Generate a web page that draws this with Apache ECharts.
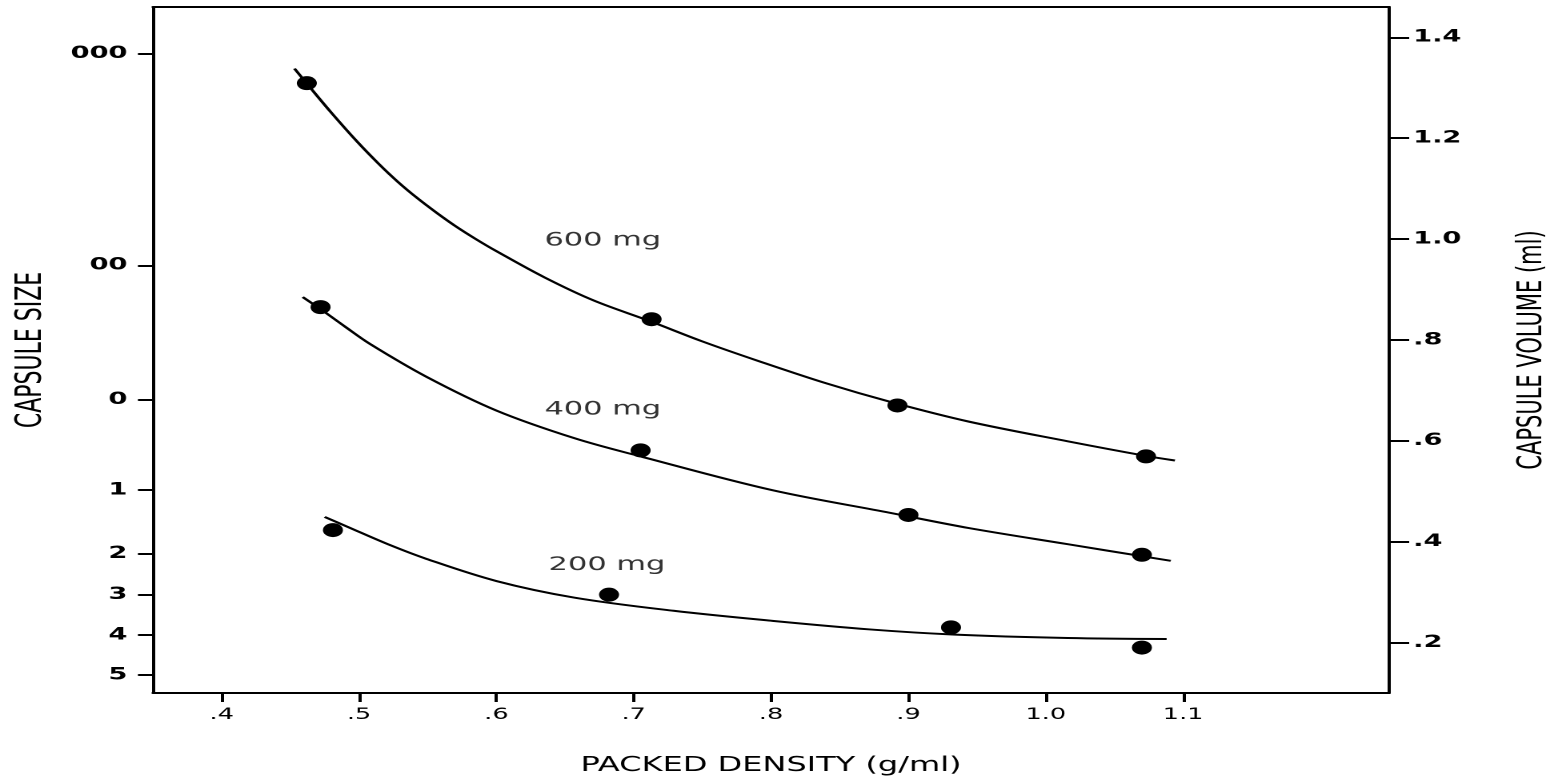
<!DOCTYPE html>
<html>
<head>
<meta charset="utf-8">
<script src="https://cdn.jsdelivr.net/npm/echarts@6/dist/echarts.min.js"></script>
<style>
  html, body { margin: 0; padding: 0; background: #fff; overflow: hidden; width: 1562px; height: 781px; }
  #chart { width: 976px; height: 781px; transform: scaleX(1.60041); transform-origin: 0 0; }
</style>
</head>
<body>
<div id="chart"></div>
<script>
// ---- data ----
const densityTicks = [0.4, 0.5, 0.6, 0.7, 0.8, 0.9, 1.0, 1.1];
const volumeTicks = [0.2, 0.4, 0.6, 0.8, 1.0, 1.2, 1.4];
const sizeLabels = ['000', '00', '0', '1', '2', '3', '4', '5'];
const sizeVolumes = [1.368, 0.948, 0.682, 0.502, 0.376, 0.295, 0.215, 0.136];

// measured points [packed density g/ml, capsule volume ml]
const points600 = [[0.462, 1.309], [0.713, 0.841], [0.892, 0.670], [1.073, 0.569]];
const points400 = [[0.472, 0.865], [0.705, 0.581], [0.900, 0.453], [1.070, 0.374]];
const points200 = [[0.481, 0.423], [0.682, 0.295], [0.931, 0.230], [1.070, 0.190]];

// fitted curves
const curve600 = [[0.453, 1.338], [0.463, 1.305], [0.480, 1.250], [0.499, 1.192], [0.514, 1.150],
  [0.528, 1.114], [0.542, 1.082], [0.556, 1.053], [0.570, 1.026], [0.585, 1.000], [0.600, 0.976],
  [0.635, 0.924], [0.671, 0.878], [0.712, 0.837], [0.750, 0.797], [0.791, 0.758], [0.840, 0.714],
  [0.887, 0.677], [0.944, 0.638], [1.016, 0.599], [1.073, 0.570], [1.094, 0.561]];
const curve400 = [[0.459, 0.885], [0.472, 0.861], [0.490, 0.826], [0.508, 0.792], [0.549, 0.727],
  [0.600, 0.660], [0.657, 0.605], [0.705, 0.569], [0.801, 0.502], [0.887, 0.457], [0.944, 0.427],
  [1.016, 0.395], [1.091, 0.362]];
const curve200 = [[0.475, 0.449], [0.492, 0.429], [0.521, 0.395], [0.549, 0.366], [0.600, 0.322],
  [0.657, 0.289], [0.729, 0.263], [0.801, 0.243], [0.872, 0.226], [0.932, 0.216], [1.016, 0.209],
  [1.088, 0.207]];

// curve annotations [text, density, volume]
const curveLabels = [['600 mg', 0.635, 0.997], ['400 mg', 0.635, 0.662], ['200 mg', 0.638, 0.354]];

// ---- chart ----
const FONT = 'DejaVu Sans';
const INK = '#000';
const fmtDec = v => { const s = (Math.round(v * 10) / 10).toFixed(1); return v < 1 ? s.slice(1) : s; };
const sizeFmt = v => {
  let best = 0;
  sizeVolumes.forEach((sv, i) => { if (Math.abs(sv - v) < Math.abs(sizeVolumes[best] - v)) best = i; });
  return sizeLabels[best];
};
const lineAxis = { show: true, onZero: false, lineStyle: { color: INK, width: 2 } };

const chart = echarts.init(document.getElementById('chart'), null, { devicePixelRatio: 2 });

const curveSeries = (data) => ({
  type: 'line', xAxisIndex: 0, yAxisIndex: 1, data: data,
  smooth: 0.35, showSymbol: false, silent: true,
  lineStyle: { color: INK, width: 2 }, z: 2
});
const pointSeries = (data) => ({
  type: 'scatter', xAxisIndex: 0, yAxisIndex: 1, data: data,
  symbol: 'circle', symbolSize: [12.5, 14], itemStyle: { color: INK, opacity: 1 }, silent: true, z: 3
});

chart.setOption({
  animation: false,
  backgroundColor: '#fff',
  grid: { left: 95.6, right: 98.1, top: 7, bottom: 87, containLabel: false },
  xAxis: [
    {
      type: 'value', position: 'bottom', min: 0.35, max: 1.25,
      axisLine: lineAxis,
      axisTick: { show: true, customValues: densityTicks, length: 9, lineStyle: { color: INK, width: 2 } },
      axisLabel: { customValues: densityTicks, formatter: fmtDec, margin: 14, fontSize: 16, color: INK, fontFamily: FONT },
      splitLine: { show: false },
      name: 'PACKED DENSITY (g/ml)', nameLocation: 'middle', nameGap: 63,
      nameTextStyle: { fontSize: 20, color: INK, fontFamily: FONT }
    },
    {
      type: 'value', position: 'top', min: 0.35, max: 1.25,
      axisLine: lineAxis, axisTick: { show: false }, axisLabel: { show: false }, splitLine: { show: false }
    }
  ],
  yAxis: [
    {
      type: 'value', position: 'left', min: 0.1, max: 1.46,
      axisLine: lineAxis,
      axisTick: { show: true, customValues: sizeVolumes, length: 9.4, lineStyle: { color: INK, width: 2 } },
      axisLabel: { customValues: sizeVolumes, formatter: sizeFmt, margin: 16, fontSize: 17, fontWeight: 'bold', color: INK, fontFamily: FONT },
      splitLine: { show: false },
      name: 'CAPSULE SIZE', nameLocation: 'middle', nameRotate: 90, nameGap: 65,
      nameTextStyle: { fontSize: 22, color: INK, fontFamily: FONT }
    },
    {
      type: 'value', position: 'right', min: 0.1, max: 1.46,
      axisLine: lineAxis,
      axisTick: { show: true, customValues: volumeTicks, length: 12.5, lineStyle: { color: INK, width: 2 } },
      axisLabel: { customValues: volumeTicks, formatter: fmtDec, margin: 15, fontSize: 17, fontWeight: 'bold', color: INK, fontFamily: FONT },
      splitLine: { show: false },
      name: 'CAPSULE VOLUME (ml)', nameLocation: 'middle', nameRotate: 90, nameGap: 79,
      nameTextStyle: { fontSize: 21, color: INK, fontFamily: FONT }
    }
  ],
  series: [
    curveSeries(curve600), curveSeries(curve400), curveSeries(curve200),
    pointSeries(points600), pointSeries(points400), pointSeries(points200),
    {
      type: 'scatter', xAxisIndex: 0, yAxisIndex: 1, silent: true, symbolSize: 0,
      data: curveLabels.map(d => [d[1], d[2], d[0]]),
      label: { show: true, position: 'right', distance: 0, formatter: p => p.data[2], fontSize: 19, color: INK, fontFamily: FONT },
      z: 4
    }
  ]
});
</script>
</body>
</html>
